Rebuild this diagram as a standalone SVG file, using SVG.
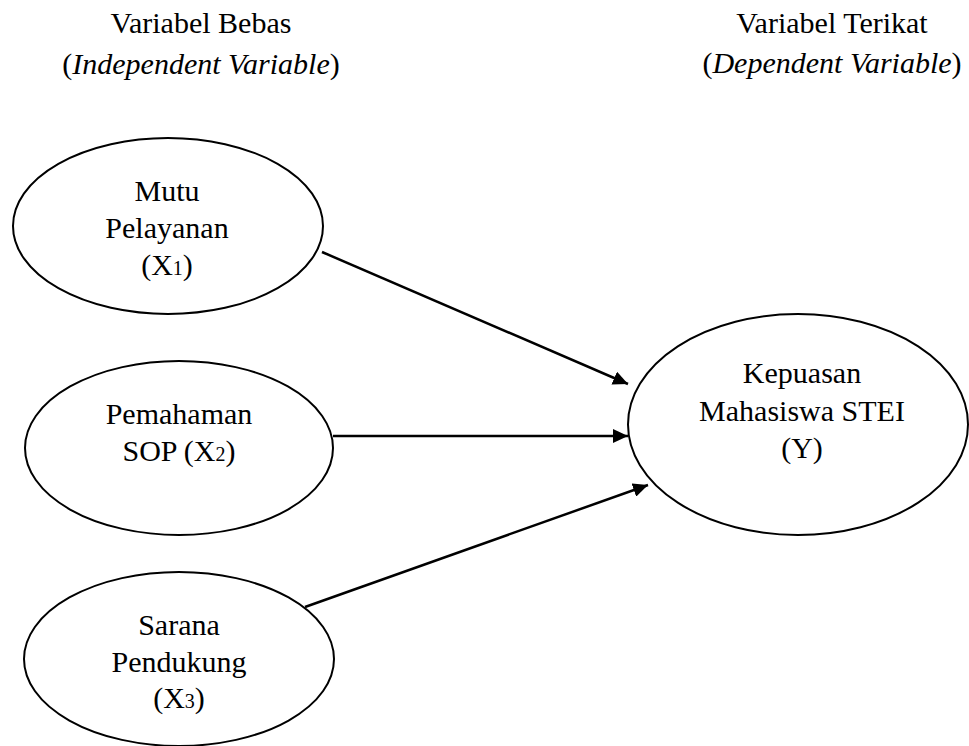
<svg xmlns="http://www.w3.org/2000/svg" width="969" height="746" viewBox="0 0 969 746">
<style>
text{font-family:"Liberation Serif","Times New Roman",serif;font-size:30px;fill:#000;text-anchor:middle}
.it{font-style:italic}
.sub{font-size:20px}
ellipse{fill:#fff;stroke:#000;stroke-width:2}
.conn line{stroke:#000;stroke-width:2.5}
</style>
<defs>
<marker id="ah" markerUnits="userSpaceOnUse" markerWidth="16" markerHeight="14" refX="15" refY="7" orient="auto">
<path d="M0,0 L15,7 L0,14 Z" fill="#000"/>
</marker>
</defs>
<rect width="969" height="746" fill="#fff"/>
<g id="header-left">
<text x="201" y="33">Variabel Bebas</text>
<text x="201" y="74">(<tspan class="it">Independent Variable</tspan>)</text>
</g>
<g id="header-right">
<text x="832" y="33">Variabel Terikat</text>
<text x="832" y="73">(<tspan class="it">Dependent Variable</tspan>)</text>
</g>
<g class="conn" id="connectors">
<line x1="322" y1="252" x2="628" y2="384" marker-end="url(#ah)"/>
<line x1="333" y1="436" x2="628" y2="436" marker-end="url(#ah)"/>
<line x1="305" y1="607" x2="648" y2="485" marker-end="url(#ah)"/>
</g>
<g id="x1">
<ellipse cx="168" cy="226" rx="155" ry="88"/>
<text x="167" y="201">Mutu</text>
<text x="167" y="238">Pelayanan</text>
<text x="167" y="275">(X<tspan class="sub">1</tspan>)</text>
</g>
<g id="x2">
<ellipse cx="179" cy="448" rx="154" ry="87"/>
<text x="179" y="424">Pemahaman</text>
<text x="179" y="461">SOP (X<tspan class="sub">2</tspan>)</text>
</g>
<g id="x3">
<ellipse cx="179" cy="659" rx="155" ry="87"/>
<text x="179" y="635">Sarana</text>
<text x="179" y="672">Pendukung</text>
<text x="179" y="708">(X<tspan class="sub">3</tspan>)</text>
</g>
<g id="y">
<ellipse cx="798" cy="424.5" rx="170" ry="110.5"/>
<text x="802" y="383">Kepuasan</text>
<text x="802" y="421">Mahasiswa STEI</text>
<text x="802" y="458">(Y)</text>
</g>
</svg>
